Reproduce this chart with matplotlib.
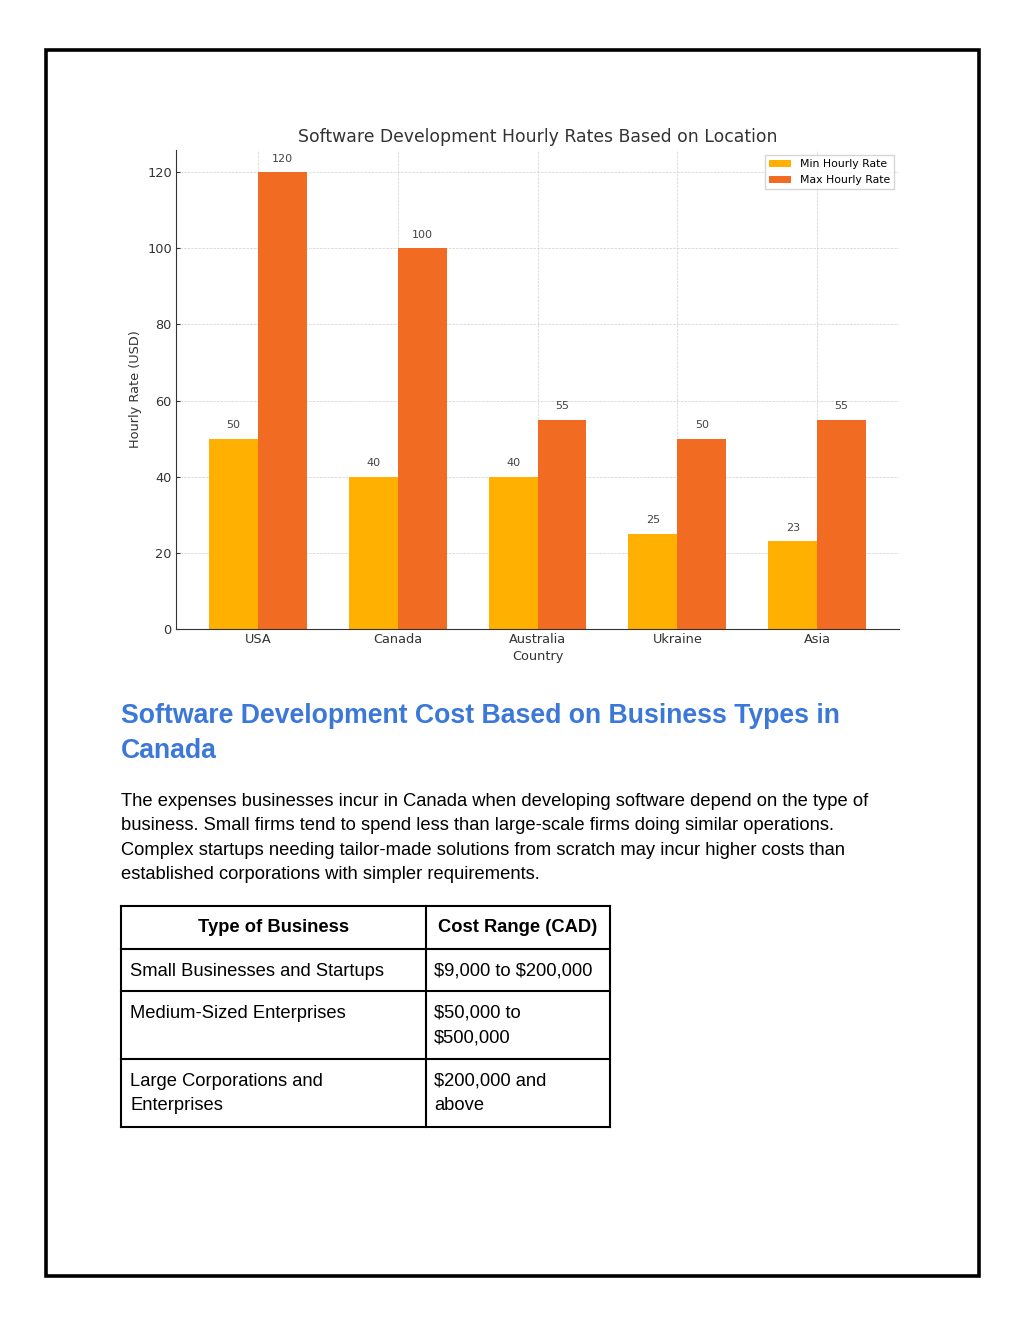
import numpy as np
import matplotlib.pyplot as plt
from matplotlib.patches import Rectangle

countries = ['USA', 'Canada', 'Australia', 'Ukraine', 'Asia']
min_rate = [50, 40, 40, 25, 23]
max_rate = [120, 100, 55, 50, 55]

heading = ["Software Development Cost Based on Business Types in", "Canada"]
body = [
    "The expenses businesses incur in Canada when developing software depend on the type of",
    "business. Small firms tend to spend less than large-scale firms doing similar operations.",
    "Complex startups needing tailor-made solutions from scratch may incur higher costs than",
    "established corporations with simpler requirements.",
]
table_header = ["Type of Business", "Cost Range (CAD)"]
business_types = ["Small Businesses and Startups", "Medium-Sized Enterprises",
                  "Large Corporations and\nEnterprises"]
cost_ranges = ["$9,000 to $200,000", "$50,000 to\n$500,000", "$200,000 and\nabove"]

W, H = 1024, 1325
fig = plt.figure(figsize=(W / 100, H / 100), dpi=100)

# page overlay in pixel coordinates
page = fig.add_axes([0, 0, 1, 1])
page.set_xlim(0, W)
page.set_ylim(H, 0)
page.axis('off')
page.add_patch(Rectangle((46, 50), 933, 1226, fill=False, lw=2.6, ec='black'))

# chart
ax = fig.add_axes([176 / W, 1 - 629 / H, (899 - 176) / W, (629 - 150) / H])
x = np.arange(len(countries))
w = 0.35
b1 = ax.bar(x - w / 2, min_rate, w, color='#FFB000', label='Min Hourly Rate')
b2 = ax.bar(x + w / 2, max_rate, w, color='#F26B22', label='Max Hourly Rate')
ax.bar_label(b1, padding=6, fontsize=8, color='#444444')
ax.bar_label(b2, padding=6, fontsize=8, color='#444444')
ax.set_ylim(0, 125.8)
ax.set_xticks(x)
ax.set_xticklabels(countries)
ax.set_yticks(range(0, 121, 20))
ax.tick_params(labelsize=9.3, colors='#333333', length=3, direction='in', pad=3)
ax.set_axisbelow(True)
ax.grid(True, linestyle='--', linewidth=0.5, color='#d0d0d0')
for s in ['top', 'right']:
    ax.spines[s].set_visible(False)
for s in ['left', 'bottom']:
    ax.spines[s].set_color('#333333')
ax.set_title('Software Development Hourly Rates Based on Location',
             fontsize=12.4, color='#333333', pad=6)
ax.set_xlabel('Country', fontsize=9.3, color='#333333', labelpad=3)
ax.set_ylabel('Hourly Rate (USD)', fontsize=9.3, color='#333333')
ax.legend(loc='upper right', fontsize=7.8, frameon=True, edgecolor='#cccccc',
          fancybox=False, handlelength=2.0, borderpad=0.35, labelspacing=0.55)

# document text
font = 'Liberation Sans'
for i, line in enumerate(heading):
    page.text(121, 723 + i * 35, line, fontsize=19.2, fontweight='bold',
              color='#3C78D8', family=font, va='baseline', ha='left')
for i, line in enumerate(body):
    page.text(121, 806 + i * 24.3, line, fontsize=13.25, color='black',
              family=font, va='baseline', ha='left')

# table
xl, xm, xr = 121, 426, 610
rows_y = [906, 949, 991, 1059, 1127]
for y in rows_y:
    page.plot([xl, xr], [y, y], color='black', lw=1.5, solid_capstyle='projecting')
for xx in [xl, xm, xr]:
    page.plot([xx, xx], [rows_y[0], rows_y[-1]], color='black', lw=1.5,
              solid_capstyle='projecting')
page.text((xl + xm) / 2, 932, table_header[0], fontsize=13.25, fontweight='bold',
          family=font, ha='center', va='baseline')
page.text((xm + xr) / 2, 932, table_header[1], fontsize=13.25, fontweight='bold',
          family=font, ha='center', va='baseline')
for r, (bt, cr) in enumerate(zip(business_types, cost_ranges)):
    base = rows_y[r + 1] + 27
    for j, line in enumerate(bt.split('\n')):
        page.text(xl + 9, base + j * 24.5, line, fontsize=13.25, family=font,
                  ha='left', va='baseline', parse_math=False)
    for j, line in enumerate(cr.split('\n')):
        page.text(xm + 8, base + j * 24.5, line, fontsize=13.25, family=font,
                  ha='left', va='baseline', parse_math=False)

fig.savefig('out.png', dpi=100, facecolor='white')
